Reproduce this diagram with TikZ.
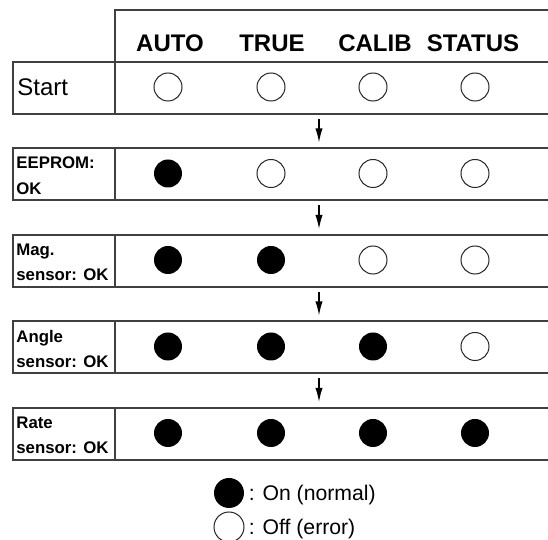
\documentclass[tikz,border=0pt]{standalone}
\usepackage{fontspec}
\setmainfont{Liberation Sans}
\usetikzlibrary{positioning,arrows.meta}

\tikzset{
  cell/.style={draw=black!75, line width=0.85pt, rectangle, inner sep=0pt, anchor=north west},
  lampon/.style={circle, fill=black, minimum size=14pt, inner sep=0pt},
  lampoff/.style={circle, draw=black!85, line width=0.5pt, minimum size=14pt, inner sep=0pt},
  rowlabel/.style={font=\bfseries\fontsize{8.4}{12.8}\selectfont, align=left, anchor=west, inner sep=0pt},
  colhead/.style={font=\bfseries\fontsize{12}{14}\selectfont, inner sep=0pt},
  keytext/.style={font=\fontsize{10.6}{13}\selectfont, inner sep=0pt, text depth=0pt},
  flow/.style={-{Latex[length=7pt,width=3.6pt]}, line width=0.65pt, shorten <=2pt, shorten >=2.5pt},
}

\begin{document}
\begin{tikzpicture}[x=0.5pt,y=-0.5pt]
  \useasboundingbox (0,0) rectangle (548,540);

  %Header
  \node[cell, minimum width=223pt, minimum height=26pt] (head) at (114,9) {};
  \node[colhead] (hAuto) at (170,43) {AUTO};
  \node[colhead] (hTrue) at (272,43) {TRUE};
  \node[colhead] (hCalib) at (375,43) {CALIB};
  \node[colhead] (hStatus) at (473,43) {STATUS};

  %Rows
  \foreach \i/\top in {0/61, 1/147.5, 2/234, 3/320.5, 4/407} {
    \node[cell, minimum width=51pt, minimum height=26pt] (lab\i) at (12,\top) {};
    \node[cell, minimum width=223pt, minimum height=26pt] (row\i) at (114,\top) {};
    \foreach \j/\x in {1/168, 2/271, 3/373, 4/475} {
      \ifnum\j>\i
        \node[lampoff] (c-\i-\j) at (\x,\top+26) {};
      \else
        \node[lampon] (c-\i-\j) at (\x,\top+26) {};
      \fi
    }
  }

  %Row labels
  \node[keytext, font=\fontsize{12}{14}\selectfont, anchor=west] (tStart) at (17,87) {Start};
  \node[rowlabel] (tEeprom) at (16,176) {EEPROM:\\OK};
  \node[rowlabel] (tMag) at (16,262.5) {Mag.\\sensor: OK};
  \node[rowlabel] (tAngle) at (16,349) {Angle\\sensor: OK};
  \node[rowlabel] (tRate) at (16,435.5) {Rate\\sensor: OK};

  %Arrows
  \coordinate (ax) at (319,0);
  \draw[flow] (row0.south -| ax) -- (row1.north -| ax);
  \draw[flow] (row1.south -| ax) -- (row2.north -| ax);
  \draw[flow] (row2.south -| ax) -- (row3.north -| ax);
  \draw[flow] (row3.south -| ax) -- (row4.north -| ax);

  %Legend
  \node[lampon, minimum size=15pt] (keyOn) at (229,493) {};
  \node[keytext, right=2pt of keyOn] (tOn) {: On (normal)};
  \node[lampoff, minimum size=15pt] (keyOff) at (229,527) {};
  \node[keytext, right=2pt of keyOff] (tOff) {: Off (error)};
\end{tikzpicture}
\end{document}
